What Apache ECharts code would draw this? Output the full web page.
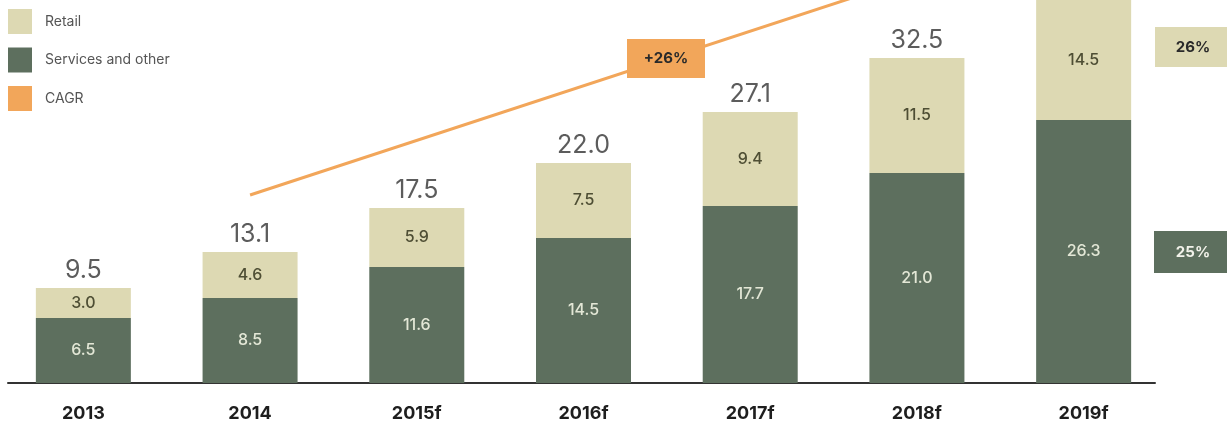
<!DOCTYPE html>
<html>
<head>
<meta charset="utf-8">
<script src="https://cdn.jsdelivr.net/npm/echarts@6/dist/echarts.min.js"></script>
<style>
  html, body { margin: 0; padding: 0; background: #fff; }
  #chart { width: 1227px; height: 428px; }
</style>
</head>
<body>
<div id="chart"></div>
<script>
// Market size by year: services at the bottom, retail stacked on top
const years = ['2013', '2014', '2015f', '2016f', '2017f', '2018f', '2019f'];
const services = [6.5, 8.5, 11.6, 14.5, 17.7, 21.0, 26.3];
const retail = [3.0, 4.6, 5.9, 7.5, 9.4, 11.5, 14.5];
const totals = [9.5, 13.1, 17.5, 22.0, 27.1, 32.5, 40.8];
// Growth trend line drawn from 2014 up past the top of 2019f
const cagrTrend = ['-', 18.8, '-', '-', '-', '-', 46.1];
const cagrLabel = '+26%';
const retailCagr = '26%';
const servicesCagr = '25%';

const GREEN = '#5d6f5e';
const BEIGE = '#ddd9b3';
const ORANGE = '#f2a65a';
const FONT = 'Inter, "Noto Sans", sans-serif';

const chart = echarts.init(document.getElementById('chart'));
chart.setOption({
  animation: false,
  textStyle: { fontFamily: FONT },
  legend: {
    orient: 'vertical',
    left: 8,
    top: 9,
    padding: 0,
    itemWidth: 24,
    itemHeight: 25,
    itemGap: 13.5,
    icon: 'rect',
    textStyle: { fontSize: 14, color: '#555', fontFamily: FONT, padding: [0, 0, 0, 8] },
    data: ['Retail', 'Services and other', 'CAGR']
  },
  grid: [
    { left: -3, right: 60, top: 0, bottom: 45 },
    { left: 8, right: 72, top: 0, bottom: 45 }
  ],
  xAxis: [
    {
      type: 'category', gridIndex: 0, data: years,
      axisLine: { show: false }, axisTick: { show: false },
      axisLabel: { margin: 22, fontSize: 18, fontWeight: 'bold', color: '#1e1e1e', fontFamily: FONT }
    },
    {
      type: 'category', gridIndex: 1, data: years,
      axisLine: { lineStyle: { color: '#333', width: 2 } },
      axisTick: { show: false }, axisLabel: { show: false }
    }
  ],
  yAxis: [
    { type: 'value', gridIndex: 0, min: 0, max: 38.3, show: false },
    { type: 'value', gridIndex: 1, min: 0, max: 38.3, show: false }
  ],
  series: [
    {
      name: 'Services and other', type: 'bar', stack: 'total', barWidth: 95,
      data: services,
      itemStyle: { color: GREEN },
      label: { show: true, position: 'inside', color: '#e3e7d6', fontSize: 16, fontWeight: 500, fontFamily: FONT,
        formatter: p => p.value.toFixed(1) }
    },
    {
      name: 'Retail', type: 'bar', stack: 'total', barWidth: 95,
      data: retail,
      itemStyle: { color: BEIGE },
      label: { show: true, position: 'inside', color: '#4e4e34', fontSize: 16, fontWeight: 500, fontFamily: FONT,
        formatter: p => p.value.toFixed(1) }
    },
    {
      name: 'Total', type: 'scatter', data: totals, symbolSize: 0,
      silent: true,
      label: { show: true, position: 'top', distance: 5, color: '#333', fontSize: 25, fontFamily: FONT,
        formatter: p => p.value.toFixed(1) }
    },
    {
      name: 'CAGR', type: 'line', data: cagrTrend, connectNulls: true,
      symbol: 'none', lineStyle: { color: ORANGE, width: 3 },
      itemStyle: { color: ORANGE }, z: 1
    }
  ],
  graphic: [
    { type: 'rect', shape: { x: 627, y: 39, width: 78, height: 39 }, style: { fill: ORANGE }, z: 10 },
    { type: 'text', x: 666, y: 58.5, style: { text: cagrLabel, fill: '#2a2a2a', font: 'bold 15px ' + FONT, align: 'center', verticalAlign: 'middle' }, z: 11 },
    { type: 'rect', shape: { x: 1155, y: 27, width: 72, height: 40 }, style: { fill: BEIGE }, z: 10 },
    { type: 'text', x: 1193, y: 47, style: { text: retailCagr, fill: '#2a2a2a', font: 'bold 15px ' + FONT, align: 'center', verticalAlign: 'middle' }, z: 11 },
    { type: 'rect', shape: { x: 1154, y: 231, width: 73, height: 42 }, style: { fill: GREEN }, z: 10 },
    { type: 'text', x: 1193, y: 252, style: { text: servicesCagr, fill: '#f2f2ea', font: 'bold 15px ' + FONT, align: 'center', verticalAlign: 'middle' }, z: 11 }
  ]
});
</script>
</body>
</html>
